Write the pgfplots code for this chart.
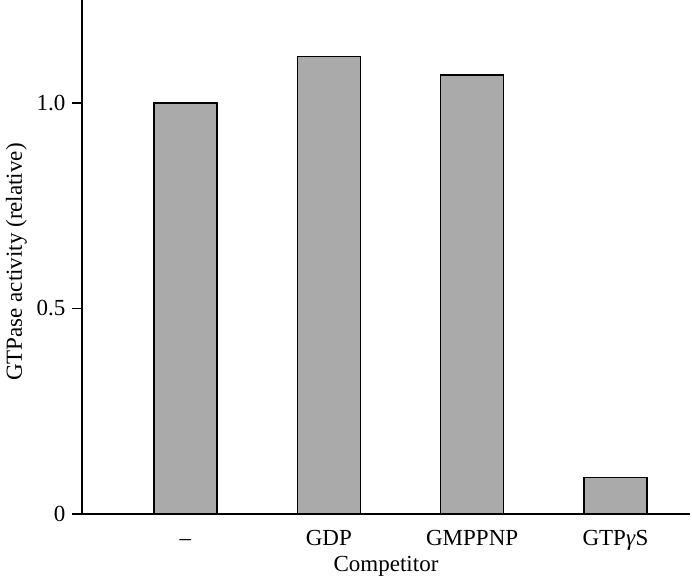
\documentclass[border=0pt]{standalone}
\usepackage{fontspec}
\setmainfont{Liberation Serif}
\usepackage{pgfplots}
\pgfplotsset{compat=1.18}
\definecolor{barfill}{HTML}{AAAAAA}
\begin{document}
\begin{tikzpicture}[x=1pt,y=1pt]
\path[use as bounding box] (0,0) rectangle (692,576);
\begin{axis}[
  at={(82pt,62pt)}, anchor=south west,
  scale only axis,
  width=608pt, height=514pt,
  xmin=-0.722, xmax=3.52,
  ymin=0, ymax=1.25,
  axis lines=left,
  axis line style={-, line width=1.6pt},
  every tick/.style={line width=1.6pt, black},
  ytick={0,0.5,1.0},
  yticklabels={0,0.5,1.0},
  xtick={0,1,2,3},
  xticklabels={\vphantom{G}--,GDP,GMPPNP,GTP\textit{γ}S},
  x tick style={draw=none},
  major tick length=10pt,
  tick align=outside,
  tick label style={font=\fontsize{23}{27}\selectfont},
  label style={font=\fontsize{23}{27}\selectfont},
  /pgf/number format/assume math mode=true,
  yticklabel style={xshift=-3pt},
  xticklabel style={yshift=-3pt},
  xlabel={Competitor},
  ylabel={GTPase activity (relative)},
  xlabel style={at={(axis description cs:0.5,-0.111)}, anchor=base},
  ylabel style={at={(axis description cs:-0.0987,0.49)}, anchor=base},
  ybar, bar width=63pt,
  clip=false,
]
\addplot[fill=barfill, draw=black, line width=1.5pt] coordinates {(0,1.0) (1,1.112) (2,1.068) (3,0.089)};
\end{axis}
\end{tikzpicture}
\end{document}
